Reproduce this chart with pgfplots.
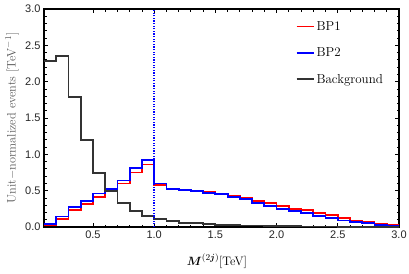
\documentclass[border=0pt]{standalone}
\usepackage{amsmath}
\usepackage{fontspec}
\newfontfamily\ticksf{Liberation Sans}
\usepackage{pgfplots}
\pgfplotsset{compat=1.18}
\definecolor{bgcol}{rgb}{0.2,0.2,0.2}
\begin{document}
\begin{tikzpicture}
\useasboundingbox (0,0) rectangle (409pt,273pt);
\begin{axis}[
  at={(44pt,46pt)}, anchor=south west,
  scale only axis, width=355pt, height=218pt,
  xmin=0.1, xmax=3.0, ymin=0, ymax=3.0,
  xtick={0.5,1.0,1.5,2.0,2.5,3.0},
  ytick={0,0.5,1.0,1.5,2.0,2.5,3.0},
  minor x tick num=4, minor y tick num=4,
  xticklabels={0.5,1.0,1.5,2.0,2.5,3.0},
  yticklabels={0.0,0.5,1.0,1.5,2.0,2.5,3.0},
  tick align=inside, tick pos=both,
  major tick length=4pt, minor tick length=2.5pt,
  tick style={black, line width=0.8pt},
  axis line style={line width=1.3pt},
  ticklabel style={font=\ticksf\fontsize{11}{13}\selectfont, text=black!85},
  xlabel={$\boldsymbol{M}^{(2\boldsymbol{j})}$[TeV]},
  ylabel={Unit$-$normalized events [TeV$^{-1}$]},
  label style={font=\fontsize{12.3}{15}\selectfont},
  ylabel style={text=black!65, anchor=center, at={(axis description cs:-0.09,0.5)}},
  xlabel style={anchor=center, at={(axis description cs:0.487,-0.155)}},
  legend style={draw=none, fill=none, font=\fontsize{13}{15}\selectfont,
    at={(axis description cs:0.70,0.963)}, anchor=north west,
    row sep=12pt, cells={anchor=west}},
  legend image code/.code={\draw[#1, line width=1.9pt] (0pt,0pt) -- (17pt,0pt);},
  clip=true,
]
\addplot[const plot, red, line width=1.8pt] coordinates {
(0.1,0.02)(0.2,0.11)(0.3,0.235)(0.4,0.32)(0.5,0.41)(0.6,0.50)(0.7,0.60)(0.8,0.75)(0.9,0.86)
(1.0,0.58)(1.1,0.52)(1.2,0.51)(1.3,0.50)(1.4,0.48)(1.5,0.46)(1.6,0.43)(1.7,0.40)(1.8,0.36)(1.9,0.33)
(2.0,0.29)(2.1,0.25)(2.2,0.23)(2.3,0.19)(2.4,0.16)(2.5,0.12)(2.6,0.09)(2.7,0.065)(2.8,0.04)(2.9,0.03)(3.0,0.03)};
\addlegendentry{BP1}
\addplot[const plot, blue, line width=1.8pt] coordinates {
(0.1,0.04)(0.2,0.145)(0.3,0.275)(0.4,0.36)(0.5,0.46)(0.6,0.52)(0.7,0.64)(0.8,0.81)(0.9,0.92)
(1.0,0.60)(1.1,0.52)(1.2,0.51)(1.3,0.49)(1.4,0.47)(1.5,0.45)(1.6,0.41)(1.7,0.38)(1.8,0.33)(1.9,0.29)
(2.0,0.25)(2.1,0.22)(2.2,0.19)(2.3,0.15)(2.4,0.12)(2.5,0.09)(2.6,0.065)(2.7,0.05)(2.8,0.03)(2.9,0.02)(3.0,0.02)};
\addlegendentry{BP2}
\addplot[const plot, bgcol, line width=1.8pt] coordinates {
(0.1,2.28)(0.2,2.35)(0.3,1.79)(0.4,1.20)(0.5,0.74)(0.6,0.50)(0.7,0.33)(0.8,0.22)(0.9,0.15)
(1.0,0.11)(1.1,0.08)(1.2,0.06)(1.3,0.05)(1.4,0.04)(1.5,0.03)(1.6,0.03)(1.7,0.02)(1.8,0.02)(1.9,0.015)
(2.0,0.012)(2.1,0.01)(2.2,0.008)(2.3,0.007)(2.4,0.006)(2.5,0.005)(2.6,0.004)(2.7,0.004)(2.8,0.003)(2.9,0.003)(3.0,0.003)};
\addlegendentry{Background}
\addplot[blue, line width=1.4pt, dash pattern=on 1.2pt off 1.4pt, forget plot] coordinates {(1.0,0)(1.0,3.0)};
\end{axis}
\end{tikzpicture}
\end{document}
